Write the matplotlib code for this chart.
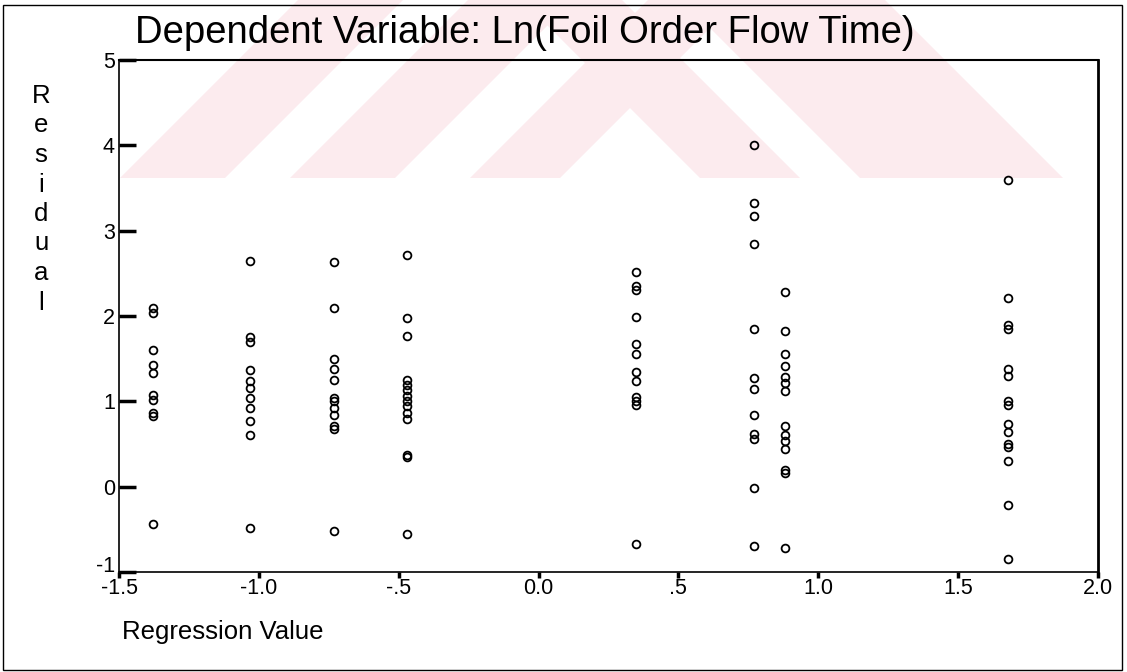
import matplotlib
matplotlib.use("Agg")
import matplotlib.pyplot as plt
from matplotlib.patches import Polygon, Rectangle
from matplotlib.transforms import ScaledTranslation

# ---- data ----
regression_values = [-1.38, -1.03, -0.73, -0.47, 0.35, 0.77, 0.88, 1.68]
residuals = [
    [2.09, 2.03, 1.60, 1.42, 1.33, 1.08, 1.01, 0.86, 0.83, -0.44],
    [2.65, 1.75, 1.69, 1.37, 1.24, 1.16, 1.04, 0.92, 0.77, 0.60, -0.48],
    [2.63, 2.09, 1.50, 1.38, 1.25, 1.04, 1.00, 0.92, 0.84, 0.71, 0.67, -0.52],
    [2.72, 1.98, 1.77, 1.25, 1.19, 1.13, 1.06, 1.00, 0.94, 0.86, 0.79, 0.37, 0.35, -0.55],
    [2.52, 2.35, 2.31, 1.99, 1.67, 1.56, 1.34, 1.24, 1.05, 1.00, 0.96, -0.67],
    [4.00, 3.33, 3.17, 2.84, 1.85, 1.27, 1.14, 0.84, 0.62, 0.56, -0.02, -0.70],
    [2.28, 1.83, 1.56, 1.41, 1.29, 1.21, 1.12, 0.71, 0.61, 0.53, 0.44, 0.20, 0.16, -0.72],
    [3.59, 2.21, 1.89, 1.85, 1.38, 1.30, 1.00, 0.96, 0.74, 0.64, 0.50, 0.46, 0.30, -0.22, -0.85],
]
x_ticks = [-1.5, -1.0, -0.5, 0.0, 0.5, 1.0, 1.5, 2.0]
x_tick_labels = ["-1.5", "-1.0", "-.5", "0.0", ".5", "1.0", "1.5", "2.0"]
y_ticks = [-1, 0, 1, 2, 3, 4, 5]
y_tick_labels = ["-1", "0", "1", "2", "3", "4", "5"]
title = "Dependent Variable: Ln(Foil Order Flow Time)"
x_label = "Regression Value"
y_label = "Residual"

W, H = 1127, 672
plt.rcParams["font.family"] = ["Liberation Sans", "DejaVu Sans"]
fig = plt.figure(figsize=(W / 100, H / 100), dpi=100)
fig.patch.set_facecolor("white")

# faint watermark band at the top (figure pixel coords), drawn beneath everything
wm_color = "#fcebee"
band_bottom = 178
stripes_fwd = [(120, 225), (290, 395), (470, 560)]
for x0, x1 in stripes_fwd:
    pts = [(x0, band_bottom), (x1, band_bottom), (x1 + band_bottom, 0), (x0 + band_bottom, 0)]
    fig.patches.append(Polygon([(px / W, 1 - py / H) for px, py in pts], closed=True,
                               transform=fig.transFigure, facecolor=wm_color,
                               edgecolor="none", zorder=-5))
stripes_back = [(700, 800), (860, 1063)]
for x0, x1 in stripes_back:
    pts = [(x0, band_bottom), (x1, band_bottom), (x1 - band_bottom, 0), (x0 - band_bottom, 0)]
    fig.patches.append(Polygon([(px / W, 1 - py / H) for px, py in pts], closed=True,
                               transform=fig.transFigure, facecolor=wm_color,
                               edgecolor="none", zorder=-5))

# outer border
fig.patches.append(Rectangle((3 / W, 2 / H), (1122 - 3) / W, (667 - 2) / H,
                             transform=fig.transFigure, fill=False,
                             edgecolor="black", linewidth=1.0, zorder=-4))

left, right, top, bottom = 119, 1098, 60, 572
ax = fig.add_axes([left / W, 1 - bottom / H, (right - left) / W, (bottom - top) / H])
ax.set_zorder(2)
ax.patch.set_alpha(0)

for xv, ys in zip(regression_values, residuals):
    ax.plot([xv] * len(ys), ys, linestyle="none", marker="o", markersize=5.6,
            markerfacecolor="none", markeredgecolor="black", markeredgewidth=1.3,
            clip_on=False)

ax.set_xlim(-1.5, 2.0)
ax.set_ylim(-1, 5)
ax.set_xticks(x_ticks)
ax.set_xticklabels(x_tick_labels, fontsize=15.5)
ax.set_yticks(y_ticks)
ax.set_yticklabels(y_tick_labels, fontsize=15.5)
ax.tick_params(axis="x", direction="out", length=4, width=2.5, pad=0)
ax.tick_params(axis="y", direction="in", length=12, width=2.5, pad=3)
# nudge the lowest y label up a little, like the reference
lbl = ax.get_yticklabels()[0]
lbl.set_transform(lbl.get_transform() + ScaledTranslation(0, 6 / 72, fig.dpi_scale_trans))
for s in ["left", "bottom"]:
    ax.spines[s].set_linewidth(1.2)
ax.spines["top"].set_linewidth(1.5)
ax.spines["right"].set_linewidth(2.0)

fig.text(135 / W, 1 - 33 / H, title, fontsize=27.5, ha="left", va="center")
fig.text(122 / W, 1 - 632 / H, x_label, fontsize=18.5, ha="left", va="center")
for i, ch in enumerate(y_label):
    fig.text(41 / W, 1 - (96 + i * 29.5) / H, ch, fontsize=18.5, ha="center", va="center")

fig.savefig("out.png", dpi=100)
